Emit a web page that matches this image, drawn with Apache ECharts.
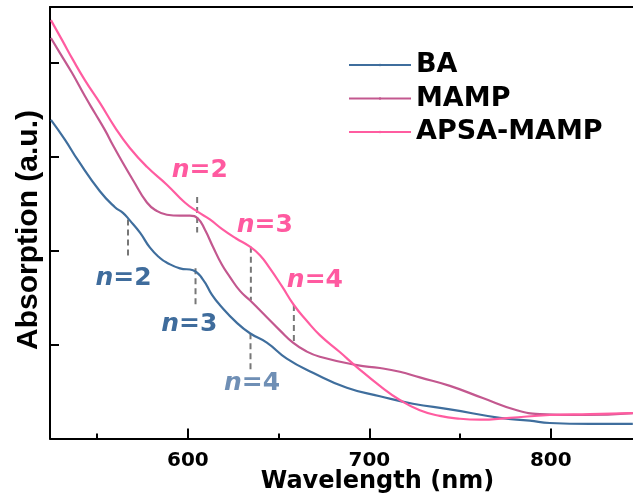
<!DOCTYPE html>
<html><head><meta charset="utf-8">
<script src="https://cdn.jsdelivr.net/npm/echarts@6/dist/echarts.min.js"></script>
<style>html,body{margin:0;padding:0;background:#fff}#c{width:633px;height:502px}</style>
</head><body><div id="c"></div>
<script>
// ---- data (wavelength in nm, absorption in a.u.) ----
const baNm   = [524.5,532.2,539.4,551.5,559.8,564.2,568.0,573.6,579.1,584.6,588.4,595.6,602.8,608.3,613.2,617.6,627.0,634.2,643.5,654.5,668.9,687.6,705.8,724.0,744.4,771.9,788.4,799.4,821.5,845.2];
const baAbs  = [3.39,3.18,2.96,2.63,2.46,2.40,2.32,2.19,2.03,1.92,1.87,1.81,1.79,1.69,1.53,1.42,1.23,1.12,1.02,0.85,0.70,0.54,0.45,0.37,0.31,0.22,0.19,0.165,0.155,0.155];
const mampNm  = [524.5,529.5,536.1,543.3,548.8,554.3,558.7,564.2,569.7,577.4,582.9,588.4,595.6,601.1,605.5,609.4,613.8,618.7,623.1,628.7,634.2,643.5,650.7,657.9,665.0,672.7,693.1,705.8,716.8,727.8,744.4,762.5,781.3,793.9,817.6,845.2];
const mampAbs = [4.26,4.10,3.89,3.64,3.46,3.28,3.12,2.93,2.75,2.51,2.42,2.38,2.37,2.37,2.34,2.22,2.04,1.85,1.72,1.57,1.47,1.29,1.15,1.02,0.93,0.87,0.78,0.75,0.71,0.65,0.56,0.43,0.30,0.26,0.25,0.27];
const apsaNm  = [524.5,530.6,536.6,543.3,551.5,559.8,568.0,577.4,588.4,598.3,605.5,612.1,618.7,626.4,634.2,639.7,645.2,651.8,658.4,665.6,672.7,683.7,693.1,705.8,716.8,727.8,738.8,749.9,760.9,777.4,799.4,821.5,845.2];
const apsaAbs = [4.45,4.24,4.03,3.81,3.57,3.31,3.09,2.89,2.70,2.51,2.41,2.33,2.23,2.13,2.04,1.95,1.81,1.62,1.42,1.25,1.10,0.92,0.76,0.56,0.41,0.30,0.24,0.21,0.20,0.22,0.25,0.26,0.27];

// excitonic peak markers (n = 2, 3, 4)
const baPeakNm     = [567.0,604.2,634.5];
const baPeakTop    = [2.33,1.81,1.12];
const baPeakBottom = [1.92,1.42,0.71];
const apsaPeakNm     = [605.1,634.7,658.4];
const apsaPeakTop    = [2.57,2.04,1.42];
const apsaPeakBottom = [2.19,1.47,1.02];
const peakN = ['2','3','4'];
const baLabelNm  = [564.5,600.8,635.3];
const baLabelAbs = [1.70,1.21,0.59];
const apsaLabelNm  = [606.6,642.4,670.0];
const apsaLabelAbs = [2.85,2.27,1.68];

const xMajor = [600,700,800];
const xMinor = [550,650,750];
const yTicks = [1,2,3,4];

const names = ['BA','MAMP','APSA-MAMP'];
const colors = ['#3f6e9d','#c3588f','#ff5ca0'];
const labelColorsBA = ['#3f6c9c','#3f6c9c','#6f8fb5'];
const labelColorPink = '#ff5aa0';

const zip = (a,b)=>a.map((v,i)=>[v,b[i]]);
const XMIN=524, XMAX=845.3;

const series = [
  {name:names[0], type:'line', data:zip(baNm,baAbs)},
  {name:names[1], type:'line', data:zip(mampNm,mampAbs)},
  {name:names[2], type:'line', data:zip(apsaNm,apsaAbs)}
].map((s,i)=>Object.assign(s,{smooth:0.5, showSymbol:false, symbol:'none', z:5,
  lineStyle:{width:2.2,color:colors[i]}, itemStyle:{color:colors[i]}}));

function dashes(nm,top,bot){
  return nm.map((x,i)=>({type:'line', data:[[x,top[i]],[x,bot[i]]], showSymbol:false, symbol:'none', z:3,
    lineStyle:{width:2,color:'#777777',type:[6,4]}, silent:true}));
}
series.push(...dashes(baPeakNm,baPeakTop,baPeakBottom));
series.push(...dashes(apsaPeakNm,apsaPeakTop,apsaPeakBottom));

function labels(nm,abs,colorFn){
  return {type:'scatter', symbolSize:0, silent:true, z:6, itemStyle:{opacity:1},
    data: nm.map((x,i)=>({value:[x,abs[i]], label:{color:colorFn(i)}})),
    label:{show:true, position:'inside', opacity:1,
      formatter:(p)=>'{i|n}{b|=' + peakN[p.dataIndex] + '}',
      rich:{
        i:{fontFamily:'DejaVu Sans',fontWeight:'bold',fontStyle:'italic',fontSize:25},
        b:{fontFamily:'DejaVu Sans',fontWeight:'bold',fontSize:25}
      }}};
}
series.push(labels(baLabelNm,baLabelAbs,i=>labelColorsBA[i]));
series.push(labels(apsaLabelNm,apsaLabelAbs,()=>labelColorPink));

const axisLineStyle = {color:'#000',width:2};
const option = {
  animation:false,
  backgroundColor:'#fff',
  grid:{left:50,right:0,top:7,bottom:63.5,containLabel:false,outerBoundsMode:'none'},
  legend:{data:names, left:348, top:51.5, padding:0, orient:'vertical', itemWidth:62, itemHeight:3, itemGap:6.5,
    textStyle:{fontFamily:'DejaVu Sans',fontWeight:'bold',fontSize:27,color:'#000',lineHeight:27}},
  xAxis:[
    {type:'value',min:XMIN,max:XMAX,position:'bottom',
      axisLine:{show:true,lineStyle:axisLineStyle,onZero:false},
      axisTick:{show:true,inside:true,length:10,lineStyle:{width:2,color:'#000'},customValues:xMajor},
      axisLabel:{show:true,customValues:xMajor,margin:12,fontFamily:'DejaVu Sans',fontWeight:'bold',fontSize:20,color:'#000'},
      splitLine:{show:false}},
    {type:'value',min:XMIN,max:XMAX,position:'bottom',
      axisLine:{show:false,onZero:false},
      axisTick:{show:true,inside:true,length:5,lineStyle:{width:2,color:'#000'},customValues:xMinor},
      axisLabel:{show:false},splitLine:{show:false}},
    {type:'value',min:XMIN,max:XMAX,position:'top',
      axisLine:{show:true,lineStyle:axisLineStyle,onZero:false},
      axisTick:{show:false},axisLabel:{show:false},splitLine:{show:false}}
  ],
  yAxis:{type:'value',min:0,max:4.59,
    axisLine:{show:true,lineStyle:axisLineStyle,onZero:false},
    axisTick:{show:true,inside:true,length:9,lineStyle:{width:2,color:'#000'},customValues:yTicks},
    axisLabel:{show:false},splitLine:{show:false}},
  graphic:[
    {type:'text', x:377.5, y:482, style:{text:'Wavelength (nm)', font:'bold 24px "DejaVu Sans"', fill:'#000', align:'center', verticalAlign:'middle'}},
    {type:'text', x:29, y:230, rotation:Math.PI/2, style:{text:'Absorption (a.u.)', font:'bold 30px "Liberation Sans"', fill:'#000', align:'center', verticalAlign:'middle'}}
  ],
  series:series
};
const chart = echarts.init(document.getElementById('c'),null,{renderer:'canvas'});
chart.setOption(option);
</script></body></html>
